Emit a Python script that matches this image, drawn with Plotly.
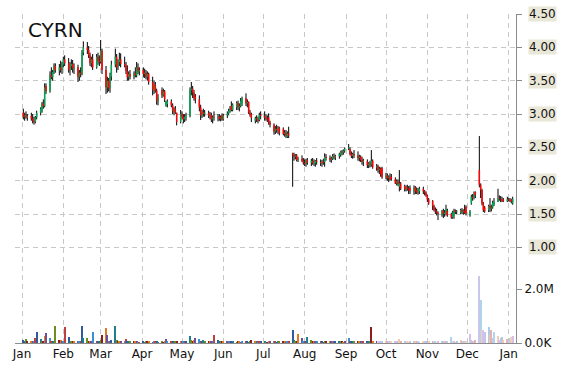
import pandas as pd
import plotly.graph_objects as go

ticker = "CYRN"

# daily OHLC (one line per week, Mon-Fri), 2018-01-02 .. 2019-01-04
opens = [
    3.02, 2.96, 2.98, 2.95,
    2.97, 2.93, 2.90, 2.88, 2.95,
    3.02, 3.05, 3.16, 3.12, 3.42,
    3.34, 3.58, 3.55, 3.63, 3.72,
    3.65, 3.70, 3.66, 3.74, 3.82,
    3.76, 3.66, 3.72, 3.75, 3.68,
    3.70, 3.56, 3.62, 3.60, 3.92,
    4.00, 3.96, 3.88, 3.76, 3.82,
    3.70, 3.86, 3.80, 3.78, 3.95,
    3.66, 3.40, 3.50, 3.38, 3.56,
    3.74, 3.86, 3.70, 3.78, 3.82,
    3.75, 3.73, 3.64, 3.55, 3.60,
    3.56, 3.61, 3.58, 3.70, 3.64,
    3.66, 3.60, 3.62, 3.56, 3.60,
    3.48, 3.36, 3.44, 3.35, 3.20,
    3.36, 3.28, 3.34, 3.12, 3.15,
    3.19, 3.13, 3.04, 3.08, 3.02,
    2.88, 3.00, 2.96, 2.92, 2.96,
    2.97, 3.36, 3.38, 3.32, 3.26,
    3.22, 3.10, 2.98, 3.03, 3.00,
    3.02, 2.97, 2.99, 2.92, 2.95,
    2.94, 2.96, 2.93, 2.98, 2.92,
    2.98, 3.01, 3.05, 3.12, 3.06,
    3.10, 3.17, 3.10, 3.12, 3.16,
    3.24, 3.16, 3.18, 3.02, 3.00,
    2.90, 2.94, 2.92, 2.91, 2.99,
    2.97, 2.95, 2.93, 2.95, 2.87,
    2.84, 2.74, 2.78, 2.76, 2.80,
    2.78, 2.70, 2.72, 2.66, 2.71,
    2.41, 2.39, 2.36, 2.38, 2.31,
    2.33, 2.30, 2.27, 2.25, 2.31,
    2.27, 2.30, 2.26, 2.26, 2.30,
    2.28, 2.26, 2.29, 2.28, 2.36,
    2.34, 2.31, 2.33, 2.37, 2.35,
    2.37, 2.39, 2.44, 2.42, 2.45,
    2.48, 2.48, 2.40, 2.37, 2.40,
    2.38, 2.34, 2.36, 2.31, 2.28,
    2.29, 2.23, 2.26, 2.24, 2.30,
    2.20, 2.22, 2.16, 2.18, 2.19,
    2.05, 2.08, 2.04, 2.06, 2.06,
    2.02, 1.96, 1.99, 1.91, 1.96,
    1.92, 1.87, 1.90, 1.88, 1.89,
    1.84, 1.90, 1.86, 1.82, 1.84,
    1.88, 1.84, 1.82, 1.78, 1.72,
    1.70, 1.62, 1.56, 1.54, 1.52,
    1.49, 1.55, 1.50, 1.52, 1.55,
    1.50, 1.45, 1.47, 1.55, 1.53,
    1.52, 1.56, 1.53, 1.55, 1.61,
    1.48, 1.66, 1.76, 1.74, 1.83,
    2.16, 1.94, 1.86, 1.66, 1.60,
    1.56, 1.62, 1.58, 1.60, 1.64,
    1.69, 1.74, 1.73, 1.72, 1.72,
    1.69, 1.72, 1.71, 1.72, 1.66,
]
highs = [
    3.08, 3.02, 3.04, 3.00,
    3.02, 3.00, 2.96, 2.97, 3.05,
    3.10, 3.18, 3.22, 3.46, 3.46,
    3.64, 3.70, 3.66, 3.76, 3.76,
    3.75, 3.80, 3.78, 3.86, 3.88,
    3.84, 3.78, 3.82, 3.81, 3.76,
    3.74, 3.66, 3.70, 3.96, 4.09,
    4.08, 4.02, 3.92, 3.86, 3.90,
    3.90, 3.92, 3.88, 4.11, 3.98,
    3.72, 3.56, 3.54, 3.62, 3.80,
    3.98, 3.90, 3.82, 3.92, 3.91,
    3.86, 3.78, 3.73, 3.64, 3.66,
    3.64, 3.70, 3.78, 3.76, 3.70,
    3.70, 3.68, 3.66, 3.64, 3.62,
    3.56, 3.50, 3.48, 3.38, 3.30,
    3.40, 3.38, 3.36, 3.20, 3.22,
    3.22, 3.16, 3.10, 3.12, 3.02,
    3.06, 3.04, 3.00, 3.00, 3.02,
    3.40, 3.48, 3.42, 3.36, 3.30,
    3.28, 3.14, 3.06, 3.08, 3.06,
    3.05, 3.03, 3.02, 2.98, 3.04,
    3.00, 3.00, 2.98, 3.01, 3.00,
    3.04, 3.08, 3.12, 3.19, 3.16,
    3.19, 3.20, 3.16, 3.24, 3.26,
    3.31, 3.22, 3.19, 3.06, 3.02,
    2.96, 2.98, 2.96, 3.02, 3.04,
    3.04, 3.00, 2.98, 3.01, 2.90,
    2.86, 2.82, 2.84, 2.82, 2.81,
    2.80, 2.76, 2.76, 2.74, 2.81,
    2.42, 2.42, 2.40, 2.40, 2.36,
    2.38, 2.34, 2.32, 2.33, 2.34,
    2.33, 2.34, 2.32, 2.31, 2.34,
    2.32, 2.31, 2.33, 2.41, 2.40,
    2.38, 2.36, 2.40, 2.41, 2.39,
    2.42, 2.45, 2.46, 2.47, 2.50,
    2.55, 2.50, 2.44, 2.42, 2.46,
    2.44, 2.39, 2.38, 2.36, 2.33,
    2.32, 2.28, 2.30, 2.46, 2.32,
    2.25, 2.24, 2.21, 2.20, 2.21,
    2.12, 2.11, 2.08, 2.11, 2.10,
    2.05, 2.02, 2.02, 2.16, 1.98,
    1.94, 1.93, 1.94, 1.92, 1.93,
    1.93, 1.92, 1.90, 1.89, 1.91,
    1.91, 1.86, 1.84, 1.79, 1.74,
    1.71, 1.64, 1.60, 1.58, 1.54,
    1.56, 1.58, 1.56, 1.64, 1.58,
    1.52, 1.55, 1.58, 1.57, 1.56,
    1.58, 1.59, 1.57, 1.64, 1.63,
    1.56, 1.79, 1.80, 1.84, 1.84,
    2.67, 1.96, 1.88, 1.68, 1.62,
    1.64, 1.74, 1.64, 1.70, 1.74,
    1.88, 1.78, 1.77, 1.76, 1.74,
    1.76, 1.74, 1.74, 1.73, 1.76,
]
lows = [
    2.92, 2.90, 2.93, 2.90,
    2.90, 2.86, 2.84, 2.86, 2.92,
    2.98, 3.02, 3.08, 3.10, 3.30,
    3.32, 3.52, 3.50, 3.60, 3.62,
    3.58, 3.62, 3.60, 3.70, 3.72,
    3.62, 3.58, 3.66, 3.62, 3.60,
    3.48, 3.50, 3.55, 3.58, 3.88,
    3.90, 3.84, 3.72, 3.70, 3.66,
    3.68, 3.74, 3.72, 3.76, 3.60,
    3.30, 3.32, 3.34, 3.32, 3.50,
    3.70, 3.62, 3.66, 3.72, 3.70,
    3.70, 3.60, 3.50, 3.50, 3.52,
    3.52, 3.55, 3.55, 3.60, 3.58,
    3.55, 3.54, 3.52, 3.50, 3.44,
    3.28, 3.30, 3.32, 3.14, 3.13,
    3.24, 3.26, 3.18, 3.11, 3.10,
    3.10, 3.00, 2.98, 3.00, 2.83,
    2.86, 2.92, 2.86, 2.88, 2.90,
    2.95, 3.28, 3.24, 3.20, 3.16,
    3.04, 2.91, 2.94, 2.96, 2.96,
    2.94, 2.92, 2.88, 2.86, 2.90,
    2.89, 2.90, 2.89, 2.90, 2.90,
    2.94, 2.98, 3.02, 3.04, 3.04,
    3.06, 3.06, 3.04, 3.10, 3.12,
    3.12, 3.10, 3.00, 2.96, 2.88,
    2.86, 2.88, 2.86, 2.89, 2.92,
    2.90, 2.90, 2.88, 2.84, 2.80,
    2.69, 2.70, 2.72, 2.70, 2.68,
    2.68, 2.66, 2.64, 2.64, 2.64,
    1.91, 2.30, 2.32, 2.29, 2.28,
    2.28, 2.24, 2.22, 2.21, 2.24,
    2.22, 2.24, 2.22, 2.21, 2.24,
    2.22, 2.21, 2.24, 2.21, 2.30,
    2.28, 2.27, 2.31, 2.32, 2.31,
    2.33, 2.36, 2.38, 2.39, 2.42,
    2.46, 2.38, 2.34, 2.33, 2.34,
    2.30, 2.29, 2.28, 2.24, 2.22,
    2.19, 2.19, 2.20, 2.21, 2.18,
    2.15, 2.12, 2.10, 2.06, 2.03,
    2.02, 2.00, 1.98, 2.00, 2.00,
    1.95, 1.93, 1.92, 1.84, 1.86,
    1.84, 1.84, 1.85, 1.80, 1.80,
    1.79, 1.80, 1.80, 1.79, 1.80,
    1.80, 1.78, 1.76, 1.68, 1.64,
    1.56, 1.54, 1.50, 1.48, 1.41,
    1.46, 1.44, 1.46, 1.48, 1.46,
    1.43, 1.43, 1.43, 1.50, 1.50,
    1.50, 1.50, 1.49, 1.50, 1.48,
    1.46, 1.64, 1.70, 1.72, 1.74,
    1.90, 1.74, 1.63, 1.53, 1.52,
    1.53, 1.53, 1.54, 1.58, 1.62,
    1.68, 1.70, 1.68, 1.68, 1.68,
    1.68, 1.69, 1.68, 1.66, 1.64,
]
closes = [
    2.96, 2.98, 2.95, 2.97,
    2.93, 2.90, 2.88, 2.95, 3.02,
    3.08, 3.16, 3.12, 3.40, 3.34,
    3.58, 3.55, 3.63, 3.72, 3.65,
    3.70, 3.66, 3.74, 3.82, 3.76,
    3.66, 3.72, 3.75, 3.68, 3.70,
    3.56, 3.62, 3.60, 3.92, 4.00,
    3.96, 3.88, 3.76, 3.82, 3.70,
    3.86, 3.80, 3.78, 3.95, 3.66,
    3.40, 3.50, 3.38, 3.56, 3.74,
    3.86, 3.70, 3.78, 3.82, 3.75,
    3.73, 3.64, 3.55, 3.60, 3.56,
    3.61, 3.58, 3.70, 3.64, 3.66,
    3.60, 3.62, 3.56, 3.60, 3.48,
    3.36, 3.44, 3.35, 3.20, 3.26,
    3.28, 3.34, 3.22, 3.18, 3.19,
    3.13, 3.04, 3.08, 3.02, 2.88,
    3.00, 2.96, 2.92, 2.96, 2.97,
    3.36, 3.38, 3.32, 3.24, 3.22,
    3.10, 2.98, 3.03, 3.00, 3.02,
    2.97, 2.99, 2.92, 2.95, 2.94,
    2.96, 2.93, 2.95, 2.92, 2.98,
    3.01, 3.05, 3.08, 3.06, 3.14,
    3.17, 3.10, 3.12, 3.20, 3.24,
    3.16, 3.18, 3.02, 2.99, 2.94,
    2.94, 2.92, 2.90, 2.99, 2.97,
    2.95, 2.93, 2.92, 2.87, 2.84,
    2.74, 2.78, 2.76, 2.79, 2.71,
    2.70, 2.72, 2.68, 2.71, 2.68,
    2.39, 2.36, 2.38, 2.31, 2.33,
    2.30, 2.27, 2.25, 2.31, 2.27,
    2.30, 2.26, 2.29, 2.30, 2.28,
    2.26, 2.29, 2.27, 2.36, 2.34,
    2.31, 2.33, 2.37, 2.35, 2.37,
    2.40, 2.44, 2.42, 2.45, 2.48,
    2.50, 2.40, 2.37, 2.40, 2.38,
    2.34, 2.36, 2.31, 2.28, 2.30,
    2.23, 2.26, 2.24, 2.30, 2.20,
    2.22, 2.16, 2.18, 2.10, 2.05,
    2.08, 2.04, 2.06, 2.02, 2.03,
    1.96, 1.99, 1.95, 1.96, 1.88,
    1.87, 1.90, 1.88, 1.86, 1.85,
    1.90, 1.84, 1.82, 1.86, 1.88,
    1.84, 1.82, 1.78, 1.72, 1.66,
    1.62, 1.56, 1.54, 1.52, 1.50,
    1.55, 1.50, 1.52, 1.58, 1.48,
    1.45, 1.52, 1.55, 1.53, 1.54,
    1.56, 1.53, 1.55, 1.52, 1.51,
    1.54, 1.76, 1.74, 1.80, 1.78,
    1.94, 1.86, 1.66, 1.56, 1.54,
    1.62, 1.58, 1.60, 1.67, 1.69,
    1.74, 1.73, 1.72, 1.70, 1.69,
    1.72, 1.71, 1.70, 1.69, 1.73,
]
# daily volume, millions of shares
volumes_m = [
    0.11, 0.06, 0.15, 0.08,
    0.06, 0.09, 0.05, 0.17, 0.42,
    0.14, 0.05, 0.04, 0.26, 0.38,
    0.17, 0.06, 0.05, 0.08, 0.63,
    0.12, 0.10, 0.05, 0.04, 0.60,
    0.22, 0.08, 0.05, 0.04, 0.07,
    0.06, 0.04, 0.05, 0.63, 0.17,
    0.17, 0.06, 0.05, 0.05, 0.42,
    0.07, 0.05, 0.04, 0.10, 0.30,
    0.54, 0.30, 0.05, 0.08, 0.10,
    0.63, 0.10, 0.06, 0.05, 0.04,
    0.05, 0.15, 0.06, 0.04, 0.05,
    0.04, 0.08, 0.05, 0.03, 0.03,
    0.05, 0.03, 0.04, 0.06, 0.04,
    0.03, 0.05, 0.04, 0.06, 0.03,
    0.04, 0.03, 0.05, 0.15, 0.06,
    0.04, 0.05, 0.03, 0.08, 0.06,
    0.05, 0.06, 0.04, 0.05, 0.07,
    0.26, 0.12, 0.08, 0.10, 0.17,
    0.15, 0.06, 0.05, 0.12, 0.04,
    0.05, 0.04, 0.06, 0.05, 0.30,
    0.12, 0.05, 0.04, 0.06, 0.05,
    0.04, 0.05, 0.03, 0.06, 0.04,
    0.03, 0.05, 0.04, 0.03, 0.05,
    0.04, 0.06, 0.03, 0.05, 0.12,
    0.05, 0.04, 0.03, 0.06, 0.04,
    0.04, 0.03, 0.02, 0.05, 0.04,
    0.06, 0.04, 0.03, 0.05, 0.04,
    0.05, 0.04, 0.03, 0.06, 0.08,
    0.48, 0.12, 0.06, 0.08, 0.35,
    0.20, 0.08, 0.05, 0.06, 0.22,
    0.10, 0.05, 0.04, 0.06, 0.04,
    0.04, 0.05, 0.03, 0.08, 0.06,
    0.07, 0.05, 0.04, 0.06, 0.04,
    0.05, 0.06, 0.04, 0.03, 0.05,
    0.17, 0.06, 0.05, 0.04, 0.05,
    0.08, 0.04, 0.05, 0.03, 0.06,
    0.07, 0.05, 0.04, 0.58, 0.06,
    0.04, 0.05, 0.06, 0.04, 0.07,
    0.05, 0.04, 0.06, 0.03, 0.05,
    0.04, 0.05, 0.06, 0.16, 0.05,
    0.06, 0.04, 0.05, 0.03, 0.04,
    0.05, 0.08, 0.04, 0.05, 0.03,
    0.06, 0.04, 0.05, 0.07, 0.06,
    0.05, 0.04, 0.06, 0.03, 0.07,
    0.05, 0.04, 0.06, 0.05, 0.04,
    0.22, 0.05, 0.04, 0.03, 0.04,
    0.10, 0.06, 0.05, 0.08, 0.06,
    0.35, 0.10, 0.06, 0.08, 0.12,
    2.48, 1.60, 0.48, 0.48, 0.42,
    0.60, 0.30, 0.48, 0.20, 0.42,
    0.25, 0.10, 0.18, 0.22, 0.12,
    0.15, 0.08, 0.20, 0.22, 0.25,
]

price_ticks = [1.00, 1.50, 2.00, 2.50, 3.00, 3.50, 4.00, 4.50]
volume_ticks = [0.0, 2.0]
volume_tick_labels = ["0.0K", "2.0M"]
month_ticks = pd.date_range("2018-01-01", "2019-01-01", freq="MS")
month_labels = [d.strftime("%b") for d in month_ticks]

n = len(closes)
assert len(opens) == n and len(highs) == n and len(lows) == n and len(volumes_m) == n
dates = pd.bdate_range("2018-01-02", periods=n)

# wick segments
wx, wy = [], []
for d, lo, hi in zip(dates, lows, highs):
    wx += [d, d, None]
    wy += [lo, hi, None]

ux, uy, dx, dy = [], [], [], []
for d, o, c in zip(dates, opens, closes):
    if c >= o:
        ux += [d, d, None]
        uy += [o, c, None]
    else:
        dx += [d, d, None]
        dy += [o, c, None]

strong = ["#2f5a9e", "#1f7f8f", "#6b8e23", "#8b1e1e", "#e07a1f", "#6a4fa3", "#3b8fd1", "#c04040"]
pale = ["#c4c4ea", "#a8cce8", "#f4c8a8", "#e8b0b0", "#c8c8ec", "#b0d4ec", "#f0d0b8", "#d8c0e8"]
vol_colors = []
for i, d in enumerate(dates):
    pal = strong if d < pd.Timestamp("2018-09-25") else pale
    vol_colors.append(pal[i % len(pal)])

fig = go.Figure()
fig.add_trace(go.Bar(
    x=dates, y=volumes_m, yaxis="y2", marker=dict(color=vol_colors, line=dict(width=0)),
    width=0.8 * 86400000, showlegend=False, hoverinfo="skip"))
fig.add_trace(go.Scatter(x=wx, y=wy, mode="lines", line=dict(color="#000000", width=1),
                         showlegend=False, hoverinfo="skip"))
fig.add_trace(go.Scatter(x=ux, y=uy, mode="lines", line=dict(color="#00a651", width=1.5),
                         showlegend=False, hoverinfo="skip"))
fig.add_trace(go.Scatter(x=dx, y=dy, mode="lines", line=dict(color="#ff0000", width=1.5),
                         showlegend=False, hoverinfo="skip"))

grid = dict(showgrid=True, gridcolor="#c8c8c8", gridwidth=1, griddash="5px,4px")
tickfont = dict(family="DejaVu Sans", size=12, color="#111111")

annotations = [dict(text=ticker, xref="paper", yref="paper", x=0.022, y=0.951,
                    xanchor="left", yanchor="middle", showarrow=False,
                    font=dict(family="DejaVu Sans", size=20, color="#111111"))]
for v in price_ticks:
    annotations.append(dict(text=f"{v:.2f}", xref="paper", yref="y", x=1.0234, y=v,
                            xanchor="left", yanchor="middle", showarrow=False,
                            bgcolor="#e9e7d8", borderpad=0, font=tickfont))

fig.update_layout(
    width=570, height=370,
    margin=dict(l=15, r=54, t=14, b=27, autoexpand=False),
    paper_bgcolor="white", plot_bgcolor="white",
    showlegend=False, bargap=0,
    xaxis=dict(type="date", range=["2017-12-26 18:00", "2019-01-06 12:00"],
               tickmode="array", tickvals=list(month_ticks), ticktext=month_labels,
               showline=True, linecolor="#8c8c8c", linewidth=1, ticks="",
               zeroline=False, tickfont=tickfont, automargin=False, **grid),
    yaxis=dict(range=[-0.433, 4.5], side="right", tickmode="array",
               tickvals=price_ticks, showticklabels=False,
               showline=True, linecolor="#8c8c8c", linewidth=1,
               ticks="outside", ticklen=5, tickcolor="#8c8c8c",
               zeroline=False, automargin=False, **grid),
    yaxis2=dict(range=[0, 12.19], overlaying="y", side="right", tickmode="array",
                tickvals=volume_ticks, ticktext=volume_tick_labels,
                showgrid=False, showline=False, zeroline=False, automargin=False,
                ticks="outside", ticklen=5, tickcolor="#8c8c8c", tickfont=tickfont),
    annotations=annotations,
)

fig.write_html("out.html", config={"displayModeBar": False},
               post_script="document.body.style.margin='0';")
